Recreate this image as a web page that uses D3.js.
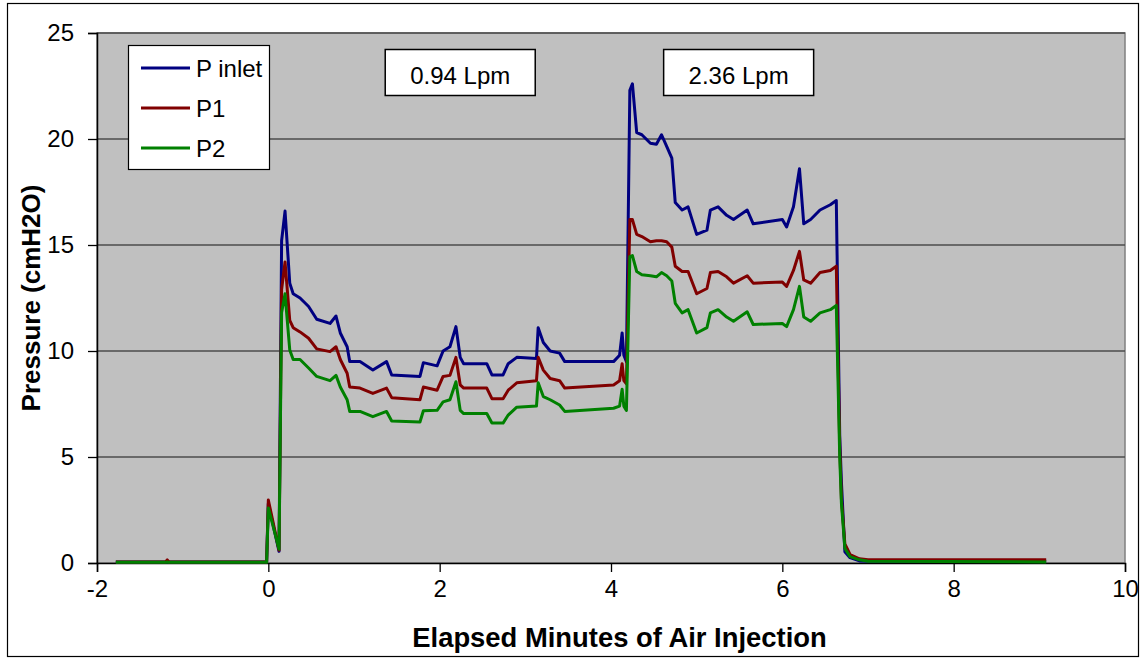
<!DOCTYPE html>
<html>
<head>
<meta charset="utf-8">
<script src="https://cdn.jsdelivr.net/npm/d3@7"></script>
<style>
  html, body { margin: 0; padding: 0; background: #fff; }
  svg { display: block; font-family: Arial, "Liberation Sans", sans-serif; }
</style>
</head>
<body>
<svg id="chart" width="1143" height="661"></svg>
<script>
// ---- data ----
const minutes = [-1.78, -1.20, -1.18, -1.16, -0.02, 0.00, 0.125, 0.155, 0.195, 0.25, 0.29, 0.37, 0.47, 0.565, 0.72, 0.79, 0.84, 0.92, 0.95, 1.07, 1.22, 1.38, 1.44, 1.77, 1.81, 1.97, 2.04, 2.12, 2.19, 2.24, 2.28, 2.55, 2.61, 2.74, 2.80, 2.90, 3.13, 3.15, 3.21, 3.29, 3.40, 3.46, 4.03, 4.10, 4.13, 4.15, 4.18, 4.22, 4.25, 4.30, 4.36, 4.46, 4.53, 4.59, 4.65, 4.71, 4.75, 4.83, 4.90, 5.00, 5.12, 5.16, 5.25, 5.35, 5.43, 5.59, 5.66, 6.00, 6.05, 6.13, 6.20, 6.25, 6.33, 6.44, 6.56, 6.63, 6.67, 6.69, 6.73, 6.79, 6.90, 7.00, 9.08];
const pInlet = [0.05, 0.05, 0.05, 0.05, 0.05, 2.8, 0.55, 15.2, 16.6, 13.2, 12.7, 12.5, 12.1, 11.5, 11.3, 11.65, 10.85, 10.2, 9.5, 9.5, 9.1, 9.5, 8.87, 8.8, 9.45, 9.3, 10.0, 10.2, 11.15, 9.7, 9.4, 9.4, 8.87, 8.87, 9.4, 9.7, 9.65, 11.1, 10.4, 10.0, 9.9, 9.5, 9.5, 9.8, 10.85, 9.8, 9.5, 22.3, 22.6, 20.3, 20.2, 19.8, 19.75, 20.2, 19.65, 19.1, 17.0, 16.65, 16.8, 15.5, 15.7, 16.65, 16.8, 16.4, 16.2, 16.65, 16.0, 16.2, 15.85, 16.8, 18.6, 16.0, 16.2, 16.65, 16.9, 17.1, 6.0, 3.8, 0.53, 0.25, 0.1, 0.08, 0.08];
const p1 = [0.05, 0.05, 0.15, 0.05, 0.05, 2.97, 0.6, 12.9, 14.2, 11.45, 11.1, 10.9, 10.6, 10.1, 9.97, 10.2, 9.6, 8.95, 8.3, 8.25, 8.0, 8.25, 7.8, 7.7, 8.3, 8.15, 8.8, 8.85, 9.7, 8.4, 8.25, 8.25, 7.75, 7.75, 8.15, 8.5, 8.6, 9.7, 9.1, 8.7, 8.6, 8.25, 8.4, 8.6, 9.4, 8.6, 8.45, 16.2, 16.2, 15.5, 15.4, 15.15, 15.2, 15.2, 15.15, 14.9, 14.0, 13.75, 13.75, 12.7, 12.95, 13.7, 13.75, 13.5, 13.2, 13.55, 13.2, 13.25, 13.05, 13.8, 14.7, 13.35, 13.2, 13.7, 13.8, 14.0, 5.5, 3.0, 0.9, 0.4, 0.2, 0.15, 0.15];
const p2 = [0.03, 0.03, 0.05, 0.03, 0.03, 2.6, 0.65, 11.8, 12.7, 10.05, 9.6, 9.6, 9.2, 8.8, 8.6, 8.85, 8.3, 7.7, 7.15, 7.15, 6.9, 7.15, 6.7, 6.65, 7.18, 7.2, 7.6, 7.7, 8.55, 7.2, 7.05, 7.05, 6.6, 6.6, 6.98, 7.35, 7.4, 8.5, 7.85, 7.7, 7.45, 7.15, 7.3, 7.4, 8.2, 7.4, 7.2, 14.45, 14.5, 13.75, 13.6, 13.55, 13.5, 13.7, 13.55, 13.3, 12.25, 11.8, 11.95, 10.85, 11.1, 11.8, 11.95, 11.6, 11.4, 11.85, 11.25, 11.3, 11.15, 11.95, 13.05, 11.6, 11.4, 11.8, 11.95, 12.15, 5.0, 2.8, 0.7, 0.3, 0.15, 0.08, 0.05];

const seriesNames = ["P inlet", "P1", "P2"];
const seriesColors = ["#000080", "#800000", "#008000"];
const xTicks = [-2, 0, 2, 4, 6, 8, 10];
const yTicks = [0, 5, 10, 15, 20, 25];
const flowLabels = ["0.94 Lpm", "2.36 Lpm"];
const flowLabelAt = [2.24, 5.49];   // minutes where the flow-rate boxes are centred

// ---- layout ----
const svg = d3.select("#chart");
const plot = { left: 97, right: 1125, top: 33, bottom: 563 };

const x = d3.scaleLinear().domain([-2, 10]).range([plot.left, plot.right]);
const y = d3.scaleLinear().domain([0, 25]).range([plot.bottom, plot.top]);

// outer frame
svg.append("rect").attr("x", 7.5).attr("y", 3.5).attr("width", 1131).attr("height", 653)
  .attr("fill", "#fff").attr("stroke", "#000").attr("stroke-width", 1.2);

// plot background
svg.append("rect").attr("x", plot.left).attr("y", plot.top)
  .attr("width", plot.right - plot.left).attr("height", plot.bottom - plot.top)
  .attr("fill", "#C0C0C0").attr("stroke", "#808080").attr("stroke-width", 1.5);

// gridlines
svg.append("g").selectAll("line").data(yTicks.filter(d => d > 0)).join("line")
  .attr("x1", plot.left).attr("x2", plot.right)
  .attr("y1", d => y(d)).attr("y2", d => y(d))
  .attr("stroke", "#4d4d4d").attr("stroke-width", 1.3);

// axes
const yAxis = d3.axisLeft(y).tickValues(yTicks).tickSize(9).tickPadding(14).tickFormat(d3.format("d"));
const xAxis = d3.axisBottom(x).tickValues(xTicks).tickSize(9).tickPadding(8).tickFormat(d => d < 0 ? "-" + Math.abs(d) : String(d));

const gy = svg.append("g").attr("transform", `translate(${plot.left},0)`).call(yAxis);
const gx = svg.append("g").attr("transform", `translate(0,${plot.bottom})`).call(xAxis);
[gx, gy].forEach(g => {
  g.select(".domain").attr("stroke", "#000").attr("stroke-width", 1.5);
  g.selectAll(".tick line").attr("stroke", "#000").attr("stroke-width", 1.3);
  g.selectAll(".tick text").attr("fill", "#000").style("font-size", "24px")
    .style("font-family", "Arial, 'Liberation Sans', sans-serif");
});

// series
const line = d3.line().x(d => x(d[0])).y(d => y(d[1]));
[pInlet, p1, p2].forEach((vals, i) => {
  svg.append("path")
    .datum(minutes.map((m, k) => [m, vals[k]]))
    .attr("d", line)
    .attr("fill", "none")
    .attr("stroke", seriesColors[i])
    .attr("stroke-width", 3)
    .attr("stroke-linejoin", "round");
});

// flow-rate boxes
flowLabels.forEach((t, i) => {
  const cx = x(flowLabelAt[i]);
  const g = svg.append("g");
  g.append("rect").attr("x", cx - 75).attr("y", 49.5).attr("width", 150).attr("height", 46)
    .attr("fill", "#fff").attr("stroke", "#000").attr("stroke-width", 1.5);
  g.append("text").attr("x", cx).attr("y", 84).attr("text-anchor", "middle")
    .style("font-size", "24px").text(t);
});

// legend
const lg = svg.append("g");
lg.append("rect").attr("x", 128.5).attr("y", 45.5).attr("width", 141).attr("height", 124)
  .attr("fill", "#fff").attr("stroke", "#000").attr("stroke-width", 1.2);
seriesNames.forEach((n, i) => {
  const yy = 68 + i * 40;
  lg.append("line").attr("x1", 141).attr("x2", 190).attr("y1", yy).attr("y2", yy)
    .attr("stroke", seriesColors[i]).attr("stroke-width", 3);
  lg.append("text").attr("x", 196).attr("y", yy + 9).style("font-size", "24px").text(n);
});

// axis titles
svg.append("text").attr("x", 619.5).attr("y", 647).attr("text-anchor", "middle")
  .style("font-size", "27.4px").style("font-weight", "bold").text("Elapsed Minutes of Air Injection");
svg.append("text").attr("transform", `translate(40,${(plot.top + plot.bottom) / 2}) rotate(-90)`)
  .attr("text-anchor", "middle")
  .style("font-size", "26px").style("font-weight", "bold").text("Pressure (cmH2O)");
</script>
</body>
</html>
